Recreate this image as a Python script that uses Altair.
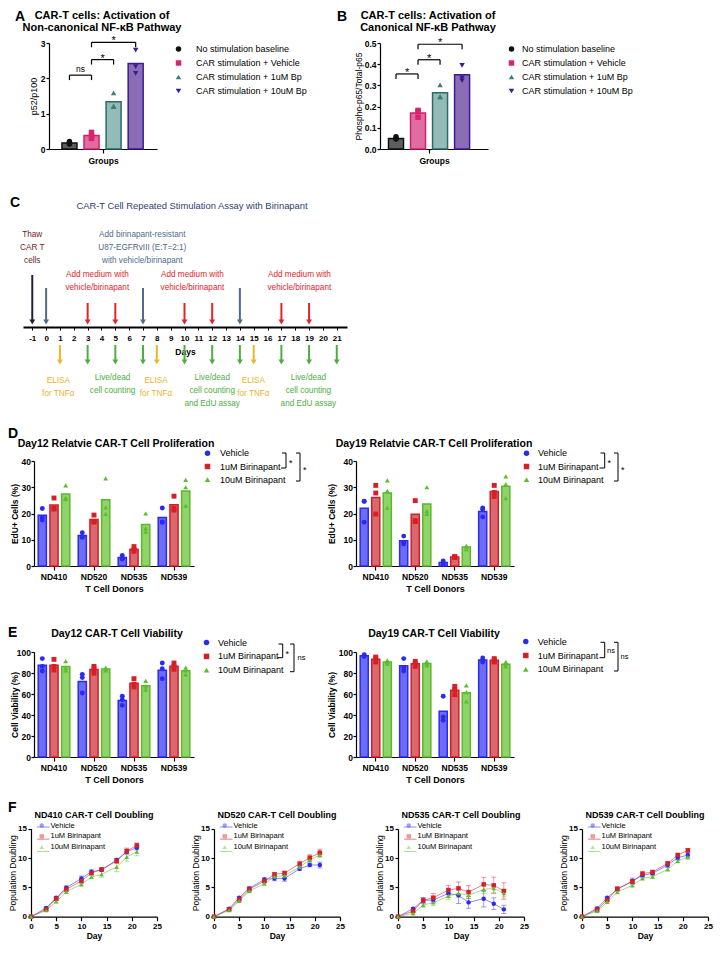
import altair as alt
import pandas as pd

FONT = "Liberation Sans, Arial, Helvetica, sans-serif"

# ---------------- Panels A / B ----------------
AB_GROUPS = ["No stimulation baseline", "CAR stimulation + Vehicle",
             "CAR stimulation + 1uM Bp", "CAR stimulation + 10uM Bp"]
A_MEANS = [0.17, 0.38, 1.34, 2.42]
A_POINTS = [[0.21, 0.14, 0.16], [0.47, 0.30, 0.37], [1.59, 1.22, 1.20], [2.80, 2.33, 2.14]]
A_BR_FROM = [1, 2, 2]
A_BR_TO = [2, 3, 4]
A_BR_Y = [2.09, 2.53, 3.02]
A_BR_TEXT = ["ns", "*", "*"]

B_MEANS = [0.05, 0.17, 0.265, 0.35]
B_POINTS = [[0.058, 0.050, 0.047], [0.182, 0.150, 0.177], [0.302, 0.245, 0.248], [0.394, 0.323, 0.335]]
B_BR_FROM = [1, 2, 2]
B_BR_TO = [2, 3, 4]
B_BR_Y = [0.354, 0.421, 0.494]
B_BR_TEXT = ["*", "*", "*"]

# ---------------- Panel C ----------------
UP_DAYS = [-1, 0, 3, 5, 7, 10, 12, 14, 17, 19]
UP_KIND = ["thaw", "stim", "medium", "medium", "stim", "medium", "medium", "stim", "medium", "medium"]
DOWN_DAYS = [1, 3, 5, 7, 8, 10, 12, 14, 15, 17, 19, 21]
DOWN_KIND = ["elisa", "count", "count", "count", "elisa", "count", "count", "count",
             "elisa", "count", "count", "count"]
NOTE_TEXT = ["Thaw\nCAR T\ncells",
             "Add birinapant-resistant\nU87-EGFRvIII (E:T=2:1)\nwith vehicle/birinapant",
             "Add medium with\nvehicle/birinapant", "Add medium with\nvehicle/birinapant",
             "Add medium with\nvehicle/birinapant",
             "ELISA\nfor TNFα", "ELISA\nfor TNFα", "ELISA\nfor TNFα",
             "Live/dead\ncell counting",
             "Live/dead\ncell counting\nand EdU assay", "Live/dead\ncell counting\nand EdU assay"]
NOTE_DAY = [-1, 6.95, 3.7, 10.57, 18.3, 0.88, 7.94, 14.98, 4.8, 12.0, 18.95]
NOTE_KIND = ["thaw", "stim", "medium", "medium", "medium", "elisa", "elisa", "elisa",
             "count", "count", "count"]
DAY_TICKS = list(range(-1, 22))

# ---------------- Panels D / E ----------------
DONORS = ["ND410", "ND520", "ND535", "ND539"]
TREATS = ["Vehicle", "1uM Birinapant", "10uM Birinapant"]

D12_MEANS = {"Vehicle": [19.3, 11.6, 3.2, 18.5],
             "1uM Birinapant": [23.2, 17.7, 6.4, 23.3],
             "10uM Birinapant": [27.4, 25.2, 15.8, 28.6]}
D12_POINTS = {"Vehicle": [[21.9, 18.5, 17.5], [12.7, 11.2, 10.9], [4.0, 3.0, 2.6], [22.1, 16.8, 16.6]],
              "1uM Birinapant": [[25.9, 22.0, 21.7], [19.4, 17.0, 16.7], [7.4, 5.6, 6.2], [26.6, 22.0, 21.3]],
              "10uM Birinapant": [[30.7, 26.0, 25.5], [33.4, 22.3, 19.9], [20.0, 14.3, 13.1], [32.8, 30.0, 23.0]]}
D19_MEANS = {"Vehicle": [22.0, 9.6, 1.3, 20.8],
             "1uM Birinapant": [26.1, 19.7, 3.4, 28.4],
             "10uM Birinapant": [27.8, 23.6, 7.2, 30.4]}
D19_POINTS = {"Vehicle": [[24.6, 24.7, 16.7], [11.4, 9.0, 8.4], [1.9, 1.3, 0.7], [22.1, 21.6, 18.7]],
              "1uM Birinapant": [[30.7, 27.8, 19.8], [24.9, 17.3, 16.9], [3.6, 3.4, 3.2], [30.7, 28.0, 26.5]],
              "10uM Birinapant": [[32.6, 28.6, 22.2], [30.0, 20.9, 19.9], [7.6, 7.6, 6.4], [34.1, 31.2, 25.9]]}
E12_MEANS = {"Vehicle": [87.3, 71.8, 53.9, 82.7],
             "1uM Birinapant": [87.4, 83.4, 70.2, 86.4],
             "10uM Birinapant": [86.3, 83.7, 67.9, 82.1]}
E12_POINTS = {"Vehicle": [[93.7, 86.3, 81.9], [78.7, 75.6, 61.0], [57.8, 54.6, 49.2], [89.5, 84.1, 74.6]],
              "1uM Birinapant": [[93.0, 86.3, 82.9], [86.3, 84.1, 79.8], [74.6, 69.2, 66.7], [89.5, 86.3, 83.5]],
              "10uM Birinapant": [[91.4, 85.1, 82.5], [85.1, 82.5, 83.5], [72.4, 67.3, 64.1], [85.1, 82.5, 78.7]]}
E19_MEANS = {"Vehicle": [96.5, 86.9, 43.6, 92.3],
             "1uM Birinapant": [93.1, 88.8, 63.6, 92.1],
             "10uM Birinapant": [90.5, 89.1, 61.1, 88.4]}
E19_POINTS = {"Vehicle": [[97.5, 96.2, 95.8], [93.7, 85.1, 81.9], [57.8, 38.1, 34.9], [94.3, 92.1, 90.5]],
              "1uM Birinapant": [[95.2, 93.7, 90.5], [91.1, 88.9, 86.3], [67.3, 64.1, 59.4], [93.7, 92.1, 90.5]],
              "10uM Birinapant": [[92.1, 90.5, 88.9], [91.1, 88.9, 87.3], [68.3, 61.9, 53.0], [90.5, 88.3, 86.3]]}

# ---------------- Panel F ----------------
F_DAYS = [0, 3, 5, 7, 10, 12, 14, 17, 19, 21]
F_MEANS = {
    "ND410": {"Vehicle": [0, 1.48, 3.24, 4.94, 6.53, 7.67, 7.95, 9.66, 11.08, 11.76],
              "1uM Birinapant": [0, 1.25, 3.07, 4.66, 6.08, 7.44, 8.07, 9.49, 11.19, 12.16],
              "10uM Birinapant": [0, 1.08, 2.56, 4.26, 5.51, 6.76, 7.22, 8.47, 10.17, 11.08]},
    "ND520": {"Vehicle": [0, 1.36, 3.24, 4.83, 6.36, 6.53, 6.53, 8.18, 8.81, 8.81],
              "1uM Birinapant": [0, 1.25, 2.95, 4.66, 6.08, 7.22, 7.44, 9.03, 10.06, 10.91],
              "10uM Birinapant": [0, 1.08, 2.67, 4.38, 5.63, 6.82, 6.99, 8.47, 9.66, 10.51]},
    "ND535": {"Vehicle": [0, 1.36, 2.78, 2.84, 3.98, 3.64, 2.44, 3.07, 2.22, 1.25],
              "1uM Birinapant": [0, 0.97, 2.78, 3.24, 4.55, 4.83, 4.20, 5.51, 5.34, 4.38],
              "10uM Birinapant": [0, 0.57, 1.99, 2.39, 3.52, 3.98, 3.64, 4.66, 4.83, 3.98]},
    "ND539": {"Vehicle": [0, 1.42, 3.24, 4.66, 6.08, 7.05, 7.39, 8.81, 10.06, 10.51],
              "1uM Birinapant": [0, 1.19, 2.84, 4.77, 5.97, 7.33, 7.61, 9.09, 10.51, 11.31],
              "10uM Birinapant": [0, 0.97, 2.50, 4.20, 5.34, 6.53, 6.82, 8.07, 9.49, 10.17]},
}
F_ERRS = {
    "ND410": {"Vehicle": [0, 0.2, 0.2, 0.3, 0.4, 0.3, 0.2, 0.3, 0.4, 0.4],
              "1uM Birinapant": [0, 0.2, 0.2, 0.3, 0.3, 0.3, 0.2, 0.4, 0.5, 0.4],
              "10uM Birinapant": [0, 0.2, 0.2, 0.3, 0.3, 0.3, 0.5, 0.8, 0.7, 0.7]},
    "ND520": {"Vehicle": [0, 0.2, 0.2, 0.3, 0.3, 0.4, 0.5, 0.3, 0.3, 0.5],
              "1uM Birinapant": [0, 0.2, 0.2, 0.3, 0.3, 0.3, 0.3, 0.4, 0.5, 0.6],
              "10uM Birinapant": [0, 0.2, 0.2, 0.3, 0.3, 0.3, 0.3, 0.3, 0.4, 0.4]},
    "ND535": {"Vehicle": [0, 0.2, 0.5, 0.5, 0.7, 1.4, 1.0, 1.4, 1.0, 0.7],
              "1uM Birinapant": [0, 0.3, 0.4, 0.7, 0.8, 1.1, 1.1, 1.2, 1.4, 1.4],
              "10uM Birinapant": [0, 0.3, 0.4, 0.5, 0.6, 0.7, 0.6, 0.7, 0.7, 0.6]},
    "ND539": {"Vehicle": [0, 0.2, 0.2, 0.3, 0.5, 0.4, 0.3, 0.4, 0.4, 0.4],
              "1uM Birinapant": [0, 0.2, 0.2, 0.3, 0.4, 0.4, 0.3, 0.3, 0.3, 0.3],
              "10uM Birinapant": [0, 0.2, 0.2, 0.3, 0.3, 0.3, 0.3, 0.3, 0.3, 0.4]},
}

# ---------------- styles ----------------
AB_POINT = ["#111111", "#D8246E", "#3F7F79", "#3B1D8E"]
AB_FILL = ["#5E5E5E", "#E06CA0", "#93BBB7", "#8A6DB6"]
AB_STROKE = ["#111111", "#D2206A", "#2F6A65", "#3B1D8E"]
AB_SHAPES = ["circle", "square", "triangle-up", "triangle-down"]

T_POINT = ["#2A2AF3", "#D71F28", "#5DBE2D"]
T_FILL = ["#6C6CF4", "#D9686F", "#8FD36A"]
T_STROKE = ["#2A2AF3", "#D41E27", "#5BB92C"]
T_SHAPES = ["circle", "square", "triangle-up"]

ARROW_COLOR = {"thaw": "#1F2236", "stim": "#4F6B8D", "medium": "#E1242B",
               "elisa": "#F0B52A", "count": "#4EAE3F"}
NOTE_COLOR = {"thaw": "#6F2226", "stim": "#4F6B8D", "medium": "#E1242B",
              "elisa": "#ECB22C", "count": "#4EAE3F"}
ARROW_TOP = {"thaw": 52, "stim": 39, "medium": 24}
NOTE_TOP = {"thaw": 96, "stim": 96, "medium": 56, "elisa": -49.5, "count": -47}

# one plot area covering the page (page coordinates minus the 8px margin)
W, H = 708, 934
OX, OY = 8, 8
ONE = pd.DataFrame({"k": [0]})


def px(x):
    return x - OX


def py(y):
    return y - OY


def label(text, x, y, size, weight="normal", color="black", align="center",
          baseline="alphabetic", line_height=None):
    kw = dict(text=text, fontSize=size, fontWeight=weight, color=color,
              align=align, baseline=baseline, font=FONT)
    if line_height is not None:
        kw["lineHeight"] = line_height
    return alt.Chart(ONE).mark_text(**kw).encode(x=alt.value(px(x)), y=alt.value(py(y)))


def seg(x0, x1, y0, y1, width=1.0, color="black", opacity=1.0):
    return alt.Chart(ONE).mark_rule(color=color, strokeWidth=width, opacity=opacity).encode(
        x=alt.value(px(x0)), x2=alt.value(px(x1)), y=alt.value(py(y0)), y2=alt.value(py(y1)))


def bracket(xv, y0, y1, xl0, xl1, text, tx, ty, size):
    return [seg(xv, xv, y0, y1), seg(xl0, xv, y0, y0), seg(xl1, xv, y1, y1),
            label(text, tx, ty, size, align="left", baseline="middle")]


def legend(sym_x, first_y, label_x, fs, spacing, sym_size):
    return alt.Legend(title=None, orient="none", legendX=px(sym_x) - 5,
                      legendY=py(first_y) - 5.2, labelFontSize=fs, labelFont=FONT,
                      symbolSize=sym_size, rowPadding=spacing - 10.4,
                      labelOffset=label_x - sym_x - 5, padding=0, labelLimit=300)


def ab_panel(letter, letter_xy, title_lines, title_x, ytitle, ytitle_x, ytitle_fs, means, points,
             br_from, br_to, br_y, br_text, ydom, yvals, yfmt, xdom, drop,
             xr, yr, leg_sym_x, leg_label_x, leg_y):
    bars = pd.DataFrame({"group": AB_GROUPS, "pos": list(range(1, 5)), "mean": means,
                         "fillc": AB_FILL, "strokec": AB_STROKE})
    pts = pd.DataFrame([{"group": g, "pos": i + 1, "value": v}
                        for i, g in enumerate(AB_GROUPS) for v in points[i]])
    br = pd.DataFrame({"x1": br_from, "x2": br_to, "y": br_y, "txt": br_text})
    br["ylow"] = br["y"] - drop
    br["xm"] = (br["x1"] + br["x2"]) / 2
    xs = alt.Scale(domain=xdom, range=[px(xr[0]), px(xr[1])], nice=False, zero=False)
    ys = alt.Scale(domain=ydom, range=[py(yr[0]), py(yr[1])], nice=False, zero=False)
    xaxis = alt.Axis(orient="bottom", offset=py(yr[0]) - H, values=[2.5], labels=False,
                     title="Groups", titleFontSize=8.5, titleFontWeight="bold", titlePadding=3,
                     tickSize=4)
    yaxis = alt.Axis(orient="left", offset=-px(xr[0]), values=yvals, format=yfmt, title=ytitle,
                     titleFontSize=ytitle_fs, titleFontWeight="normal", labelFontSize=8.5,
                     labelFontWeight="bold", tickSize=3, labelPadding=1, labelFlush=False,
                     titleX=ytitle_x - xr[0], titleBaseline="middle")
    X = lambda f: alt.X(f, scale=xs, axis=xaxis)
    Y = lambda f: alt.Y(f, scale=ys, axis=yaxis)
    leg = legend(leg_sym_x, leg_y, leg_label_x, 9, 14.4, 30)
    gs = lambda rng: alt.Scale(domain=AB_GROUPS, range=rng)
    bar_layer = alt.Chart(bars).mark_bar(size=15, strokeWidth=1.5).encode(
        x=X("pos:Q"), y=Y("mean:Q"),
        fill=alt.Fill("fillc:N", scale=None), stroke=alt.Stroke("strokec:N", scale=None))
    pt_layer = alt.Chart(pts).mark_point(filled=True, size=30, opacity=1).encode(
        x=X("pos:Q"), y=Y("value:Q"),
        color=alt.Color("group:N", scale=gs(AB_POINT), legend=leg),
        shape=alt.Shape("group:N", scale=gs(AB_SHAPES), legend=leg))
    base = alt.Chart(br)
    hrule = base.mark_rule(color="black", strokeWidth=1.2).encode(
        x=X("x1:Q"), x2="x2:Q", y=Y("y:Q"))
    lrule = base.mark_rule(color="black", strokeWidth=1.2).encode(
        x=X("x1:Q"), y=Y("y:Q"), y2="ylow:Q")
    rrule = base.mark_rule(color="black", strokeWidth=1.2).encode(
        x=X("x2:Q"), y=Y("y:Q"), y2="ylow:Q")
    ns_text = base.transform_filter(alt.datum.txt == "ns").mark_text(
        baseline="alphabetic", dy=-3, fontSize=8.5, font=FONT).encode(
        x=X("xm:Q"), y=Y("y:Q"), text="txt:N")
    star_text = base.transform_filter(alt.datum.txt == "*").mark_text(
        baseline="alphabetic", dy=2, fontSize=11, font=FONT).encode(
        x=X("xm:Q"), y=Y("y:Q"), text="txt:N")
    return alt.layer(
        label(letter, letter_xy[0], letter_xy[1], 14, "bold", align="left"),
        label(title_lines, title_x, 19, 11, "bold", line_height=11.5),
        bar_layer, pt_layer, hrule, lrule, rrule, ns_text, star_text,
    )


def c_panel():
    up = pd.DataFrame({"day": UP_DAYS, "kind": UP_KIND})
    up["top"] = up["kind"].map(ARROW_TOP)
    up["end"] = 5
    down = pd.DataFrame({"day": DOWN_DAYS, "kind": DOWN_KIND})
    down["top"] = -18
    down["end"] = -35
    arrows = pd.concat([up, down], ignore_index=True)
    arrows["col"] = arrows["kind"].map(ARROW_COLOR)
    notes = pd.DataFrame({"day": NOTE_DAY, "text": NOTE_TEXT, "kind": NOTE_KIND})
    notes["level"] = notes["kind"].map(NOTE_TOP)
    notes["col"] = notes["kind"].map(NOTE_COLOR)
    axis_y = 327
    xs = alt.Scale(domain=[-1.67, 21.74], range=[px(23), px(347)], nice=False, zero=False)
    ys = alt.Scale(domain=[0, 100], range=[py(axis_y), py(axis_y - 100)], nice=False, zero=False)
    xaxis = alt.Axis(orient="bottom", offset=py(axis_y) - H, values=DAY_TICKS, title="Days",
                     labelExpr="'' + datum.value", labelFontSize=8, labelFontWeight="bold",
                     titleFontSize=8.5, titleFontWeight="bold", domainWidth=2, tickSize=3,
                     tickWidth=1, labelPadding=4, titlePadding=5, labelOverlap=False,
                     labelFlush=False)
    X = lambda f: alt.X(f, scale=xs, axis=xaxis)
    Y = lambda f: alt.Y(f, scale=ys, axis=None)
    shafts = alt.Chart(arrows).mark_rule(strokeWidth=2).encode(
        x=X("day:Q"), y=Y("top:Q"), y2="end:Q", color=alt.Color("col:N", scale=None))
    heads = alt.Chart(arrows).mark_point(shape="triangle-down", filled=True, size=34, opacity=1).encode(
        x=X("day:Q"), y=Y("end:Q"), color=alt.Color("col:N", scale=None))
    note_layer = alt.Chart(notes).mark_text(font=FONT, fontSize=8.2, lineBreak="\n", lineHeight=13,
                                            baseline="top", align="center").encode(
        x=X("day:Q"), y=Y("level:Q"), text="text:N", color=alt.Color("col:N", scale=None))
    return alt.layer(
        label("C", 10, 207, 14, "bold", align="left"),
        label("CAR-T Cell Repeated Stimulation Assay with Birinapant", 192, 206, 9.4,
              color="#2F3E6E", baseline="middle"),
        shafts, heads, note_layer,
    )


def donor_panel(xr, yr, letter, title, title_x, title_y, ytitle, ytitle_x, ymax, yvals,
                means, points, leg_sym_x, leg_label_x, leg_y, leg_spacing, brackets):
    bars = pd.DataFrame([{"donor": d, "treat": t, "mean": means[t][i],
                          "fillc": T_FILL[k], "strokec": T_STROKE[k]}
                         for k, t in enumerate(TREATS) for i, d in enumerate(DONORS)])
    pts = pd.DataFrame([{"donor": d, "treat": t, "value": v}
                        for t in TREATS for i, d in enumerate(DONORS) for v in points[t][i]])
    xaxis = alt.Axis(orient="bottom", offset=py(yr[0]) - H, title="T Cell Donors", labelAngle=0,
                     labelFontSize=8.5, labelFontWeight="bold", titleFontSize=9,
                     titleFontWeight="bold", tickSize=4, labelPadding=2, titlePadding=4)
    yaxis = alt.Axis(orient="left", offset=-px(xr[0]), values=yvals, title=ytitle,
                     titleFontWeight="bold", titleFontSize=8.5, labelFontSize=8.5,
                     labelFontWeight="bold", tickSize=3, labelPadding=0.5, labelFlush=False,
                     titleX=ytitle_x - xr[0], titleBaseline="middle")
    X = alt.X("donor:N", sort=DONORS, scale=alt.Scale(range=[px(xr[0]), px(xr[1])],
                                                     paddingInner=0, paddingOuter=0), axis=xaxis)
    XO = alt.XOffset("treat:N", sort=TREATS, scale=alt.Scale(paddingInner=0.3, paddingOuter=0.36))
    Y = lambda f: alt.Y(f, scale=alt.Scale(domain=[0, ymax], range=[py(yr[0]), py(yr[1])],
                                           nice=False, zero=False), axis=yaxis)
    ts = lambda rng: alt.Scale(domain=TREATS, range=rng)
    leg = legend(leg_sym_x, leg_y, leg_label_x, 9, leg_spacing, 30)
    bar_layer = alt.Chart(bars).mark_bar(strokeWidth=1.5).encode(
        x=X, xOffset=XO, y=Y("mean:Q"),
        fill=alt.Fill("fillc:N", scale=None), stroke=alt.Stroke("strokec:N", scale=None))
    pt_layer = alt.Chart(pts).mark_point(filled=True, size=24, opacity=1).encode(
        x=X, xOffset=XO, y=Y("value:Q"),
        color=alt.Color("treat:N", scale=ts(T_POINT), legend=leg),
        shape=alt.Shape("treat:N", scale=ts(T_SHAPES), legend=leg))
    layers = []
    if letter:
        layers.append(label(letter[0], 8, letter[1], 14, "bold", align="left"))
    layers.append(label(title, title_x, title_y, 10.5, "bold"))
    layers += [bar_layer, pt_layer]
    for b in brackets:
        layers += bracket(*b)
    return alt.layer(*layers)


def doubling_panel(donor, x0, letter):
    rows = []
    for k, t in enumerate(TREATS):
        for i, d in enumerate(F_DAYS):
            m = F_MEANS[donor][t][i]
            e = F_ERRS[donor][t][i]
            rows.append({"treat": t, "day": d, "mean": m, "lo": m - e, "hi": m + e,
                         "col": T_POINT[k]})
    df = pd.DataFrame(rows)
    caps = pd.concat([df[["treat", "day", "lo", "col"]].rename(columns={"lo": "cap"}),
                      df[["treat", "day", "hi", "col"]].rename(columns={"hi": "cap"})],
                     ignore_index=True)
    y_top, y_bot = 828.7, 916.7
    x1 = x0 + 126
    xs = alt.Scale(domain=[0, 25], range=[px(x0), px(x1)], nice=False, zero=False)
    ys = alt.Scale(domain=[0, 15], range=[py(y_bot), py(y_top)], nice=False, zero=False)
    xaxis = alt.Axis(orient="bottom", offset=py(y_bot) - H, values=[0, 5, 10, 15, 20, 25], title="Day",
                     labelFontSize=8, labelFontWeight="bold", titleFontSize=8.5,
                     titleFontWeight="bold", tickSize=4, labelPadding=2, titlePadding=1,
                     labelFlush=False)
    yaxis = alt.Axis(orient="left", offset=-px(x0), values=[0, 5, 10, 15], title="Population Doubling",
                     labelFontSize=8, labelFontWeight="bold", titleFontSize=8.5,
                     titleFontWeight="normal", tickSize=3, labelPadding=1.5, labelFlush=False,
                     titleX=-18.5, titleBaseline="middle")
    X = alt.X("day:Q", scale=xs, axis=xaxis)
    Y = lambda f: alt.Y(f, scale=ys, axis=yaxis)
    cs = alt.Scale(domain=TREATS, range=T_POINT)
    leg_y0, leg_dy = 827, 12.2
    leg = legend(x0 + 12, leg_y0, x0 + 22, 7.5, leg_dy, 20)
    err = alt.Chart(df).mark_rule(strokeWidth=1, opacity=0.45).encode(
        x=X, y=Y("lo:Q"), y2="hi:Q", color=alt.Color("col:N", scale=None))
    cap = alt.Chart(caps).mark_tick(orient="horizontal", size=5, thickness=1, opacity=0.45).encode(
        x=X, y=Y("cap:Q"), color=alt.Color("col:N", scale=None))
    line = alt.Chart(df).mark_line(strokeWidth=1, opacity=0.55).encode(
        x=X, y=Y("mean:Q"), detail="treat:N", color=alt.Color("col:N", scale=None))
    pts = alt.Chart(df).mark_point(filled=True, size=20, opacity=1).encode(
        x=X, y=Y("mean:Q"),
        color=alt.Color("treat:N", scale=cs, legend=leg),
        shape=alt.Shape("treat:N", scale=alt.Scale(domain=TREATS, range=T_SHAPES), legend=leg))
    layers = []
    if letter:
        layers.append(label(letter, 8, 812, 14, "bold", align="left"))
    layers.append(label(donor + " CAR-T Cell Doubling", (x0 + x1) / 2, 818, 9, "bold"))
    for k in range(3):
        yk = leg_y0 + k * leg_dy
        layers.append(seg(x0 + 6, x0 + 18.5, yk, yk, 1, T_POINT[k], 0.55))
    layers += [err, cap, line, pts]
    return alt.layer(*layers)


# ---------------- assemble ----------------
A = ab_panel("A", (15, 20.5), ["CAR-T cells: Activation of", "Non-canonical NF-κB Pathway"], 102,
             "p52/p100", 33.5, 9, A_MEANS, A_POINTS, A_BR_FROM, A_BR_TO, A_BR_Y, A_BR_TEXT,
             [0, 3], [0, 1, 2, 3], "d", [0.30, 4.74], 0.14, (49, 157), (149, 43),
             179, 197, 49.7)
B = ab_panel("B", (337, 20.5), ["CAR-T cells: Activation of", "Canonical NF-κB Pathway"], 428,
             "Phospho-p65/Total-p65", 358.5, 8.5, B_MEANS, B_POINTS, B_BR_FROM, B_BR_TO, B_BR_Y,
             B_BR_TEXT, [0, 0.5], [0, 0.1, 0.2, 0.3, 0.4, 0.5], ".1f", [0.5, 4.95], 0.024,
             (380, 488), (149, 43), 512, 523, 49.7)

D12 = donor_panel((34, 194), (566, 461), ("D", 438), "Day12 Relatvie CAR-T Cell Proliferation", 116, 447,
                  "EdU+ Cells (%)", 14.5, 40, [0, 10, 20, 30, 40], D12_MEANS, D12_POINTS,
                  208, 221, 454, 13.6,
                  [(286, 453, 468, 282, 281, "*", 289, 463, 9),
                   (300, 453, 481, 296, 296, "*", 303, 470, 9)])
D19 = donor_panel((356, 514), (566, 461), None, "Day19 Relatvie CAR-T Cell Proliferation", 434, 447,
                  "EdU+ Cells (%)", 331.5, 40, [0, 10, 20, 30, 40], D19_MEANS, D19_POINTS,
                  527, 539, 454, 13.6,
                  [(604.7, 453, 468, 600.5, 599.5, "*", 607.5, 463, 9),
                   (618, 453, 481, 614, 614, "*", 621, 470, 9)])
E12 = donor_panel((34, 194), (757, 652), ("E", 637), "Day12 CAR-T Cell Viability", 117, 637,
                  "Cell Viability (%)", 14.5, 100, [0, 20, 40, 60, 80, 100], E12_MEANS, E12_POINTS,
                  207, 219, 643.3, 14.2,
                  [(282.7, 644, 657.7, 278.5, 277.5, "*", 285.5, 653.7, 9),
                   (294, 644, 671.7, 290, 290, "ns", 297.5, 658.3, 7.5)])
E19 = donor_panel((356, 514), (757, 652), None, "Day19 CAR-T Cell Viability", 434, 637,
                  "Cell Viability (%)", 331.5, 100, [0, 20, 40, 60, 80, 100], E19_MEANS, E19_POINTS,
                  526.3, 538.7, 642.3, 14.3,
                  [(604.7, 642.3, 657.7, 600.5, 599.5, "ns", 607, 650.7, 7.5),
                   (618, 642.3, 671, 614, 614, "ns", 620.5, 657.3, 7.5)])

F1 = doubling_panel("ND410", 31, "F")
F2 = doubling_panel("ND520", 214, None)
F3 = doubling_panel("ND535", 398, None)
F4 = doubling_panel("ND539", 582, None)

chart = alt.layer(A, B, c_panel(), D12, D19, E12, E19, F1, F2, F3, F4).resolve_scale(
    x="independent", y="independent", color="independent", shape="independent",
    xOffset="independent"
).resolve_axis(x="independent", y="independent").resolve_legend(
    color="independent", shape="independent"
).properties(
    width=W, height=H, padding=0, autosize=alt.AutoSizeParams(type="none")
).configure(font=FONT).configure_view(stroke=None).configure_axis(
    grid=False, domainColor="black", tickColor="black", labelColor="black",
    titleColor="black", domainWidth=1.2, tickWidth=1.2, labelFont=FONT, titleFont=FONT
).configure_legend(labelColor="black", labelFont=FONT)

chart.save("out.html", embed_options={"renderer": "svg", "actions": False})
